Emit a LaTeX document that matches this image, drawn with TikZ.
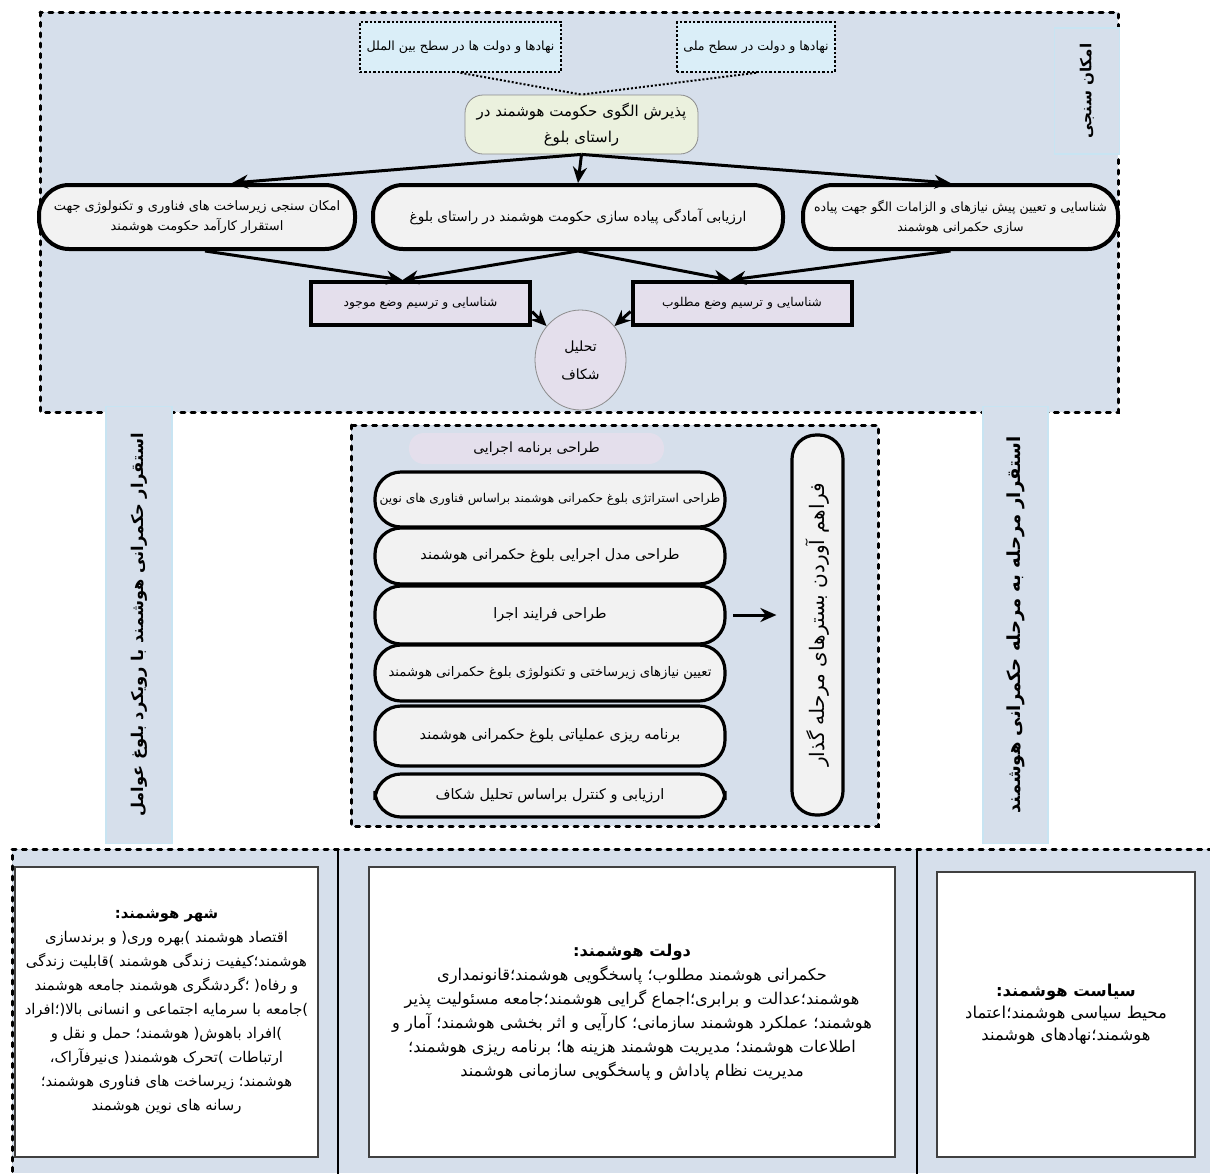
\documentclass[tikz,border=0pt]{standalone}
\usepackage{fontspec}
\usetikzlibrary{arrows.meta,positioning,shapes.geometric}
\newfontfamily\farsi[Script=Arabic]{DejaVu Sans}
\TeXXeTstate=1
\newcommand{\rtl}[1]{\beginR #1\endR}
\definecolor{panel}{RGB}{214,223,235}
\definecolor{bandline}{RGB}{200,228,242}
\definecolor{paleblue}{RGB}{218,238,248}
\definecolor{palegreen}{RGB}{235,241,222}
\definecolor{palepurple}{RGB}{228,223,236}
\definecolor{boxgray}{RGB}{242,242,242}

\begin{document}
\begin{tikzpicture}[x=0.5pt,y=-0.5pt,>={Stealth[length=8pt,width=7pt]},
    every node/.style={font=\farsi\fontsize{6.8}{10}\selectfont,inner sep=1pt},
    dashframe/.style={line width=1.5pt,dash pattern=on 2pt off 3.2pt,line cap=round},
    band/.style={draw=bandline,line width=0.8pt,fill=panel,rotate=90,
        font=\farsi\bfseries\fontsize{8.1}{10}\selectfont},
    source/.style={draw,line width=0.8pt,dash pattern=on 1.2pt off 1pt,fill=paleblue,
        minimum height=25pt,font=\farsi\fontsize{6.3}{8}\selectfont},
    goal/.style={draw=black!45,thin,fill=palegreen,rounded corners=9pt,align=center,
        font=\farsi\fontsize{7.5}{13}\selectfont},
    pill/.style={draw,line width=2pt,fill=boxgray,rounded corners=15pt,align=center,
        minimum height=32pt},
    state/.style={draw,line width=2pt,fill=palepurple,minimum width=109.5pt,
        minimum height=21.5pt,font=\farsi\fontsize{6.1}{8}\selectfont},
    gapshape/.style={ellipse,draw=black!45,thin,fill=palepurple,align=center,
        minimum width=45.5pt,minimum height=50pt,font=\farsi\fontsize{7}{14}\selectfont},
    stage/.style={draw,line width=1.6pt,fill=boxgray,rounded corners=13pt,
        minimum width=175pt,outer sep=0pt,font=\farsi\fontsize{7.2}{9}\selectfont},
    card/.style={draw=black!75,line width=0.8pt,fill=white,align=center,
        font=\farsi\fontsize{7.4}{12}\selectfont},
    flow/.style={->,line width=1.5pt},
    link/.style={line width=1pt,dash pattern=on 1pt off 1pt}]

\useasboundingbox (0,0) rectangle (1210,1173);

% panels
\draw[dashframe,fill=panel] (40,12) rectangle (1118,412);
\fill[panel] (12,849) rectangle (1210,1173);
\draw[dashframe] (1212,849) -- (12,849) -- (12,1175);
\draw[dashframe,fill=panel] (351,425) rectangle (878,826);

% side bands
\node[band,minimum width=218.5pt,minimum height=33pt] (lband) at (139,625)
    {\rtl{استقرار حکمرانی هوشمند با رویکرد بلوغ عوامل}};
\node[band,minimum width=218.5pt,minimum height=32.5pt,font=\farsi\bfseries\fontsize{9}{11}\selectfont] (rband) at (1015.5,625)
    {\rtl{استقرار مرحله به مرحله حکمرانی هوشمند}};
\node[band,minimum width=63pt,minimum height=32.5pt,font=\farsi\bfseries\fontsize{7.6}{9}\selectfont] (feas) at (1087,91)
    {\rtl{امکان سنجی}};

\draw[line width=1.2pt] (338,849) -- (338,1175) (917,849) -- (917,1175);

% feasibility part
\node[source,minimum width=100.5pt] (intl) at (460.5,47) {\rtl{نهادها و دولت ها در سطح بین الملل}};
\node[source,minimum width=79pt] (natl) at (756,47) {\rtl{نهادها و دولت در سطح ملی}};

\node[goal,minimum width=116.5pt,minimum height=29.5pt] (adopt) at (581.5,124.5)
    {\rtl{پذیرش الگوی حکومت هوشمند در}\\\rtl{راستای بلوغ}};
\draw[link] (intl.south) -- (adopt.north) (natl.south) -- (adopt.north);

\node[pill,minimum width=158pt,font=\farsi\fontsize{6.5}{10}\selectfont] (infra) at (197,217)
    {\rtl{امکان سنجی زیرساخت های فناوری و تکنولوژی جهت}\\\rtl{استقرار کارآمد حکومت هوشمند}};
\node[pill,minimum width=205pt] (ready) at (578,217)
    {\rtl{ارزیابی آمادگی پیاده سازی حکومت هوشمند در راستای بلوغ}};
\node[pill,minimum width=157.5pt,font=\farsi\fontsize{6.3}{10}\selectfont] (prereq) at (960.5,217)
    {\rtl{شناسایی و تعیین پیش نیازهای و الزامات الگو جهت پیاده}\\\rtl{سازی حکمرانی هوشمند}};

\draw[flow] (adopt.south) -- ([xshift=17.5pt]infra.north);
\draw[flow] (adopt.south) -- (ready.north);
\draw[flow] (adopt.south) -- ([xshift=-5pt]prereq.north);

\node[state] (now) at (420.5,303.5) {\rtl{شناسایی و ترسیم وضع موجود}};
\node[state] (want) at (742,303.5) {\rtl{شناسایی و ترسیم وضع مطلوب}};

\draw[flow] ([xshift=4pt]infra.south) -- ([xshift=-9pt]now.north);
\draw[flow] (ready.south) -- ([xshift=-9pt]now.north);
\draw[flow] (ready.south) -- ([xshift=-6pt]want.north);
\draw[flow] ([xshift=-5pt]prereq.south) -- ([xshift=-6pt]want.north);

\node[gapshape] (gap) at (580.5,360) {\rtl{تحلیل}\\\rtl{شکاف}};
\draw[flow] ([yshift=-4pt]now.east) -- (gap.135);
\draw[flow] ([yshift=-4pt]want.west) -- (gap.45);

% action plan
\node[fill=palepurple,rounded corners=7.5pt,minimum width=127.5pt,minimum height=15.5pt,
    font=\farsi\fontsize{7}{9}\selectfont] (plan) at (536.5,448.5) {\rtl{طراحی برنامه اجرایی}};

\node[stage,minimum height=27.5pt,font=\farsi\fontsize{6.1}{8}\selectfont] (s1) at (550,499.5)
    {\rtl{طراحی استراتژی بلوغ حکمرانی هوشمند  براساس فناوری های نوین}};
\node[stage,minimum height=28pt,below=0.5pt of s1] (s2)
    {\rtl{طراحی مدل اجرایی بلوغ حکمرانی هوشمند}};
\node[stage,minimum height=29pt,below=1pt of s2] (s3)
    {\rtl{طراحی فرایند اجرا}};
\node[stage,minimum height=28pt,below=0.5pt of s3,font=\farsi\fontsize{6.6}{8}\selectfont] (s4)
    {\rtl{تعیین نیازهای زیرساختی و تکنولوژی بلوغ حکمرانی هوشمند}};
\node[stage,minimum height=30pt,below=2.5pt of s4] (s5)
    {\rtl{برنامه ریزی عملیاتی بلوغ حکمرانی هوشمند}};
\node[stage,minimum height=21.5pt,below=4pt of s5] (s6)
    {\rtl{ارزیابی و کنترل براساس تحلیل شکاف}};

\node[draw,line width=1.6pt,fill=boxgray,rounded corners=12pt,rotate=90,
    minimum width=190pt,minimum height=25.5pt,font=\farsi\fontsize{10}{12}\selectfont] (base) at (817.5,625)
    {\rtl{فراهم آوردن بسترهای مرحله گذار}};
\draw[flow] ([xshift=4pt]s3.east) -- ([xshift=-7pt]s3.east -| base.north);

% smart city, state and policy
\node[card,minimum width=151.5pt,minimum height=145pt] (city) at (166.5,1012)
    {{\bfseries\rtl{شهر هوشمند:}}\\
     \rtl{اقتصاد هوشمند )بهره وری( و برندسازی}\\
     \rtl{هوشمند؛کیفیت زندگی هوشمند )قابلیت زندگی}\\
     \rtl{و رفاه( ؛گردشگری هوشمند جامعه هوشمند}\\
     \rtl{)جامعه با سرمایه اجتماعی و انسانی بالا(؛افراد}\\
     \rtl{)افراد باهوش( هوشمند؛ حمل و نقل و}\\
     \rtl{ارتباطات )تحرک هوشمند( ی‌نیرفآراک،}\\
     \rtl{هوشمند؛ زیرساخت های فناوری هوشمند؛}\\
     \rtl{رسانه های نوین هوشمند}};
\node[card,minimum width=263pt,minimum height=145pt,font=\farsi\fontsize{8.1}{12}\selectfont] (gov) at (632,1012)
    {{\bfseries\rtl{دولت هوشمند:}}\\
     \rtl{حکمرانی هوشمند مطلوب؛ پاسخگویی هوشمند؛قانونمداری}\\
     \rtl{هوشمند؛عدالت و برابری؛اجماع گرایی هوشمند؛جامعه مسئولیت پذیر}\\
     \rtl{هوشمند؛ عملکرد هوشمند سازمانی؛ کارآیی و اثر بخشی هوشمند؛ آمار و}\\
     \rtl{اطلاعات هوشمند؛ مدیریت هوشمند هزینه  ها؛ برنامه ریزی هوشمند؛}\\
     \rtl{مدیریت نظام پاداش و پاسخگویی سازمانی هوشمند}};
\node[card,minimum width=129pt,minimum height=142.5pt,font=\farsi\fontsize{8.2}{11}\selectfont] (policy) at (1066,1014.5)
    {{\bfseries\rtl{سیاست هوشمند:}}\\
     \rtl{محیط سیاسی هوشمند؛اعتماد}\\
     \rtl{هوشمند؛نهادهای هوشمند}};

\end{tikzpicture}
\end{document}
